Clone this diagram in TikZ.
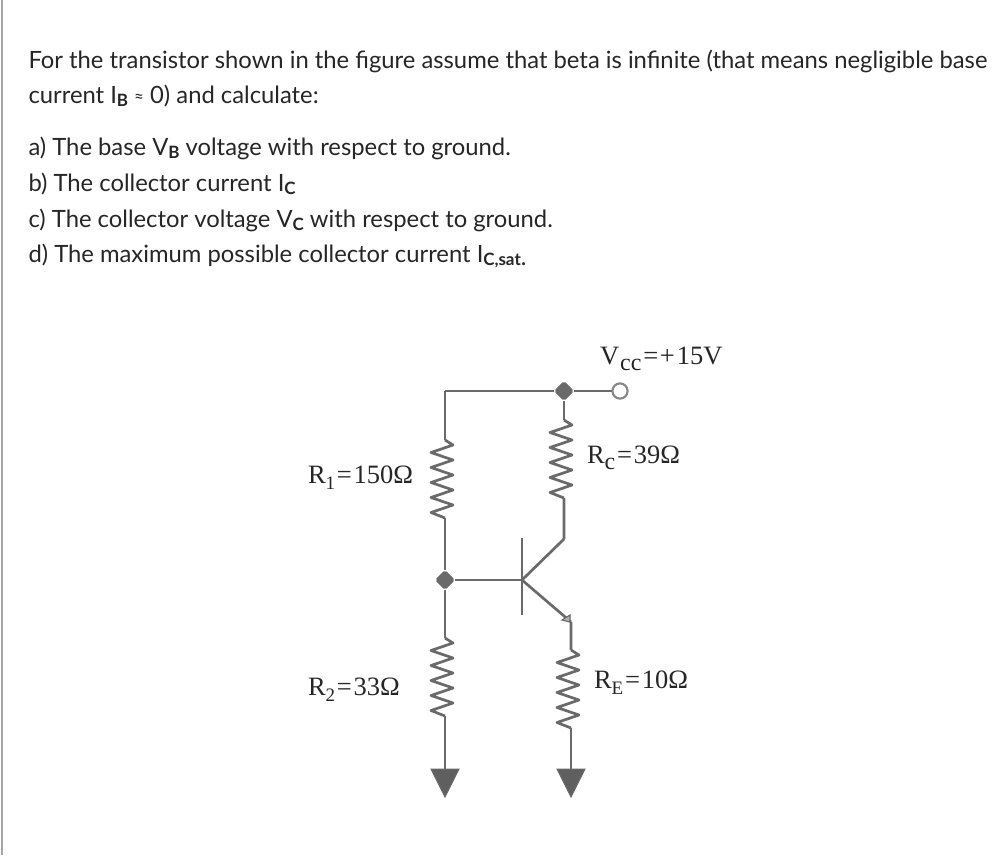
\documentclass[tikz,border=0pt]{standalone}
\usepackage{fontspec}
\usetikzlibrary{shapes.geometric,arrows.meta}
\setmainfont{Lato}
\newfontfamily\circfont{Liberation Serif}
\newcommand{\lowsub}[1]{\raisebox{-3.5pt}{\fontsize{17}{17}\selectfont\bfseries #1}}
\newcommand{\csub}[2][19]{\raisebox{-6pt}{\fontsize{#1}{#1}\selectfont #2}}
\newcommand{\wideeq}{\kern1.8pt=\kern1.8pt}
\definecolor{wirec}{HTML}{6A6A6A}
\definecolor{ink}{HTML}{262626}
\tikzset{
  x=1pt,y=-1pt,
  wire/.style={draw=wirec,line width=2.7pt,line join=round},
  thinwire/.style={draw=wirec,line width=2pt},
  para/.style={anchor=base west,inner sep=0pt,outer sep=0pt,text=ink,font=\fontsize{23.8}{25}\selectfont},
  clabel/.style={anchor=base west,inner sep=0pt,outer sep=0pt,text=ink,font=\circfont\fontsize{26.5}{28}\selectfont},
  junction/.style={diamond,draw=wirec,fill=wirec,line width=1.6pt,rounded corners=1.5pt,inner sep=0pt,minimum size=18pt},
  terminal/.style={circle,draw=wirec!80,fill=white,line width=2pt,inner sep=0pt,minimum size=15pt},
  pt/.style={inner sep=0pt,outer sep=0pt,minimum size=0pt},
  groundtri/.style={draw=wirec,fill=wirec!90!black,line width=1pt,line join=miter},
}
% #1 top name, #2 bottom name: zigzag resistor body of 78 px between two named points
\newcommand{\resistor}[2]{%
  \draw[wire] (#1) -- ++(8,5) -- ++(-22,7.5) -- ++(22,7.5) -- ++(-22,7.5) -- ++(22,7.5)
    -- ++(-22,7.5) -- ++(22,7.5) -- ++(-22,7.5) -- ++(22,7.5) -- ++(-22,7.5) -- (#2);}
\begin{document}
\begin{tikzpicture}
\useasboundingbox (0,0) rectangle (992,855);
\fill[white] (0,0) rectangle (992,855);
\draw[draw=black!35,line width=1.5pt] (2,0) -- (2,855);

\node[para] (t1) at (28.5,68) {For the transistor shown in the figure assume that beta is infinite (that means negligible base};
\node[para] (t2) at (28.5,103) {current I\lowsub{B} \raisebox{1pt}{\fontsize{17}{17}\selectfont≈} 0) and calculate:};
\node[para] (t3) at (28.5,155) {a) The base V\lowsub{B} voltage with respect to ground.};
\node[para] (t4) at (28.5,191) {b) The collector current I\lowsub{C}};
\node[para] (t5) at (28.5,227) {c) The collector voltage V\lowsub{C} with respect to ground.};
\node[para] (t6) at (28.5,262) {d) The maximum possible collector current I\lowsub{C,sat}\raisebox{-3pt}{.}};

\node[pt] (tl) at (445,391) {};
\node[junction] (jt) at (564,391) {};
\node[terminal] (vcc) at (620,391) {};
\node[junction] (jb) at (445,580) {};
\node[pt] (b) at (522,580) {};
\node[pt] (r1t) at (445,440) {};
\node[pt] (r1b) at (445,518) {};
\node[pt] (r2t) at (445,638) {};
\node[pt] (r2b) at (445,716) {};
\node[pt] (rct) at (564,420) {};
\node[pt] (rcb) at (564,498) {};
\node[pt] (c) at (564,539) {};
\node[pt] (e) at (571,622) {};
\node[pt] (ret) at (571,650) {};
\node[pt] (reb) at (571,728) {};
\node[pt] (bart) at (522,538) {};
\node[pt] (barb) at (522,615) {};
\node[pt] (g1) at (445,769) {};
\node[pt] (g2) at (571,769) {};

\draw[wire] (r1t) -- (tl) -- (jt) -- (vcc);
\draw[wire] (jt) -- (rct);
\draw[wire] (rcb) -- (c) -- (b);
\draw[wire] (jb) -- (b);
\draw[wire] (b) -- (e) -- (ret);
\draw[wire] (r1b) -- (jb) -- (r2t);
\draw[wire] (r2b) -- (g1);
\draw[wire] (reb) -- (g2);
\draw[thinwire] (bart) -- (barb);
\resistor{r1t}{r1b}
\resistor{r2t}{r2b}
\resistor{rct}{rcb}
\resistor{ret}{reb}

\node[junction] at (jt) {};
\node[junction] at (jb) {};
\node[terminal] at (vcc) {};

\draw[groundtri] (431,769) -- (459,769) -- (445,797) -- cycle;
\draw[groundtri] (557,769) -- (585,769) -- (571,797) -- cycle;
\draw[draw=wirec,fill=black!30,line width=1.1pt] (570,615) -- (570,622) -- (562,620) -- cycle;

\node[clabel] (lvcc) at (600,364) {V\kern1pt\csub[24]{cc}\wideeq+\kern2pt 15V};
\node[clabel] (lrc) at (587,463) {R\csub[24]{c}\wideeq 39Ω};
\node[clabel] (lr1) at (308,483) {R\csub{1}\wideeq 150Ω};
\node[clabel] (lr2) at (308,695) {R\csub{2}\wideeq 33Ω};
\node[clabel] (lre) at (594,688) {R\csub{E}\wideeq 10Ω};
\end{tikzpicture}
\end{document}
